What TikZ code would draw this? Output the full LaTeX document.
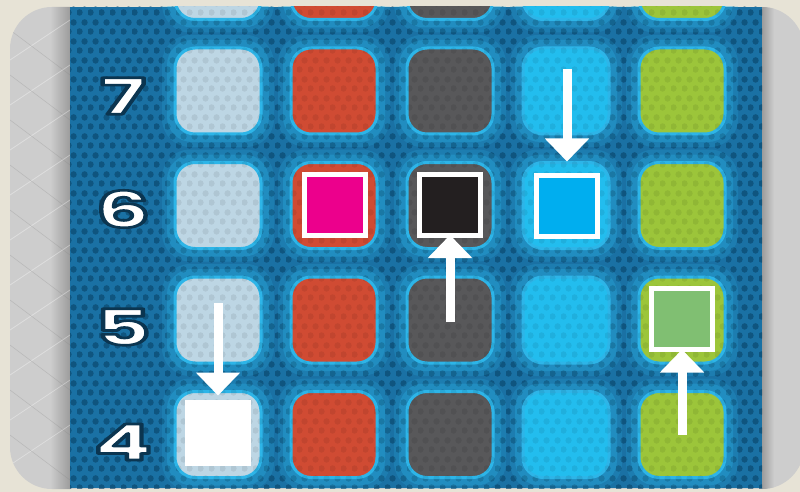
\documentclass[tikz,border=0pt]{standalone}
\usepackage{fontspec}
\newfontfamily\digitfont{Poppins}
\usetikzlibrary{arrows.meta,patterns}
\definecolor{bgbeige}{HTML}{E7E3D6}
\definecolor{silver}{HTML}{CDCDCD}
\definecolor{silverdark}{HTML}{9C9C9C}
\definecolor{panel}{HTML}{1A71A4}
\definecolor{dotc}{HTML}{0C4E78}
\definecolor{ring}{HTML}{2DB5E8}
\definecolor{cgrey}{HTML}{BDD6E4}
\definecolor{cred}{HTML}{D04B33}
\definecolor{cdark}{HTML}{58585A}
\definecolor{cblue}{HTML}{22BDEE}
\definecolor{cgreen}{HTML}{9CC53A}
\definecolor{smag}{HTML}{EC008C}
\definecolor{sblack}{HTML}{231F20}
\definecolor{sblue}{HTML}{00AEEF}
\definecolor{sgreen}{HTML}{80BF72}
\definecolor{navy}{HTML}{0B3550}
\pgfdeclarepatternformonly{hexdots}{\pgfpointorigin}{\pgfqpoint{11pt}{19pt}}{\pgfqpoint{11pt}{19pt}}{%
  \pgfpathcircle{\pgfqpoint{2.75pt}{4.75pt}}{3.4pt}%
  \pgfpathcircle{\pgfqpoint{8.25pt}{14.25pt}}{3.4pt}%
  \pgfusepath{fill}}
\tikzset{
  cellbox/.style={rectangle, rounded corners=20pt, minimum size=86pt, inner sep=0pt, draw=ring, line width=3pt},
  sqbox/.style={rectangle, draw=white, line width=5pt, minimum size=61pt, inner sep=0pt},
  arr/.style={draw=white, line width=9pt, -{Triangle[width=43pt,length=23pt]}},
  digit/.style={inner sep=0pt, text=white, font=\digitfont\bfseries\fontsize{50}{50}\selectfont}
}
\newcommand{\wdigit}[1]{\special{pdf:literal direct 2 Tr 2.6 w 1 j 0.043 0.208 0.314 RG}\scalebox{1.7}[1]{#1}\special{pdf:literal direct 0 Tr}}
\begin{document}
\begin{tikzpicture}[x=1pt,y=-1pt]
\useasboundingbox (0,0) rectangle (800,492);
\fill[bgbeige] (0,0) rectangle (800,492);
% card
\begin{scope}
\clip[rounded corners=42pt] (10,7) rectangle (804,489);
\fill[silver] (10,7) rectangle (804,489);
\shade[left color=silver, right color=silverdark] (50,7) rectangle (70,489);
\shade[left color=silverdark, right color=silver] (762,7) rectangle (774,489);
\foreach \k in {0,...,9} {
  \draw[white, opacity=0.35, line width=0.7pt] (10,{60+\k*45}) -- (70,{20+\k*45});
  \draw[gray, opacity=0.25, line width=0.6pt] (10,{30+\k*45}) -- (70,{75+\k*45});
}
\end{scope}
% panel
\fill[panel] (70,7) rectangle (762,488);
\fill[pattern=hexdots, pattern color=dotc, fill opacity=0.6] (70,7) rectangle (762,488);
\begin{scope}
\clip (70,7) rectangle (762,488);
% cells
\foreach \c/\col in {0/cgrey,1/cred,2/cdark,3/cblue,4/cgreen} {
  \foreach \r in {-1,0,1,2,3} {
    \pgfmathsetmacro\cx{218+\c*116}
    \pgfmathsetmacro\cy{91+\r*114.5}
    \fill[ring, opacity=0.18, rounded corners=28pt] (\cx-56,\cy-56) rectangle (\cx+56,\cy+56);
    \fill[ring, opacity=0.3, rounded corners=25pt] (\cx-51,\cy-51) rectangle (\cx+51,\cy+51);
    \node[cellbox, fill=\col] (cell\c\r) at (\cx,\cy) {};
  }
}
\fill[pattern=hexdots, pattern color=black, fill opacity=0.07] (70,7) rectangle (762,488);
\end{scope}
% row numbers
\node[digit] (num7) at (123,96) {\wdigit{7}};
\node[digit] (num6) at (123,209) {\wdigit{6}};
\node[digit] (num5) at (123,327) {\wdigit{5}};
\node[digit] (num4) at (123,442) {\wdigit{4}};
% marked squares
\node[sqbox, fill=smag] (s62) at (335,205) {};
\node[sqbox, fill=sblack] (s63) at (450,205) {};
\node[sqbox, fill=sblue] (s64) at (567,206) {};
\node[sqbox, fill=sgreen] (s55) at (682,319) {};
\node[sqbox, fill=white] (s41) at (218,433) {};
% arrows
\coordinate (a64) at (567,69);
\coordinate (a41) at (218,303);
\coordinate (a63) at (450,322);
\coordinate (a55) at (682,435);
\draw[arr, shorten >=11.5pt] (a64) -- (s64.north);
\draw[arr, shorten >=4.5pt] (a41) -- (s41.north);
\draw[arr, shorten >=-3pt] (a63) -- (s63.south);
\draw[arr, shorten >=-2.5pt] (a55) -- (s55.south);
\end{tikzpicture}
\end{document}
